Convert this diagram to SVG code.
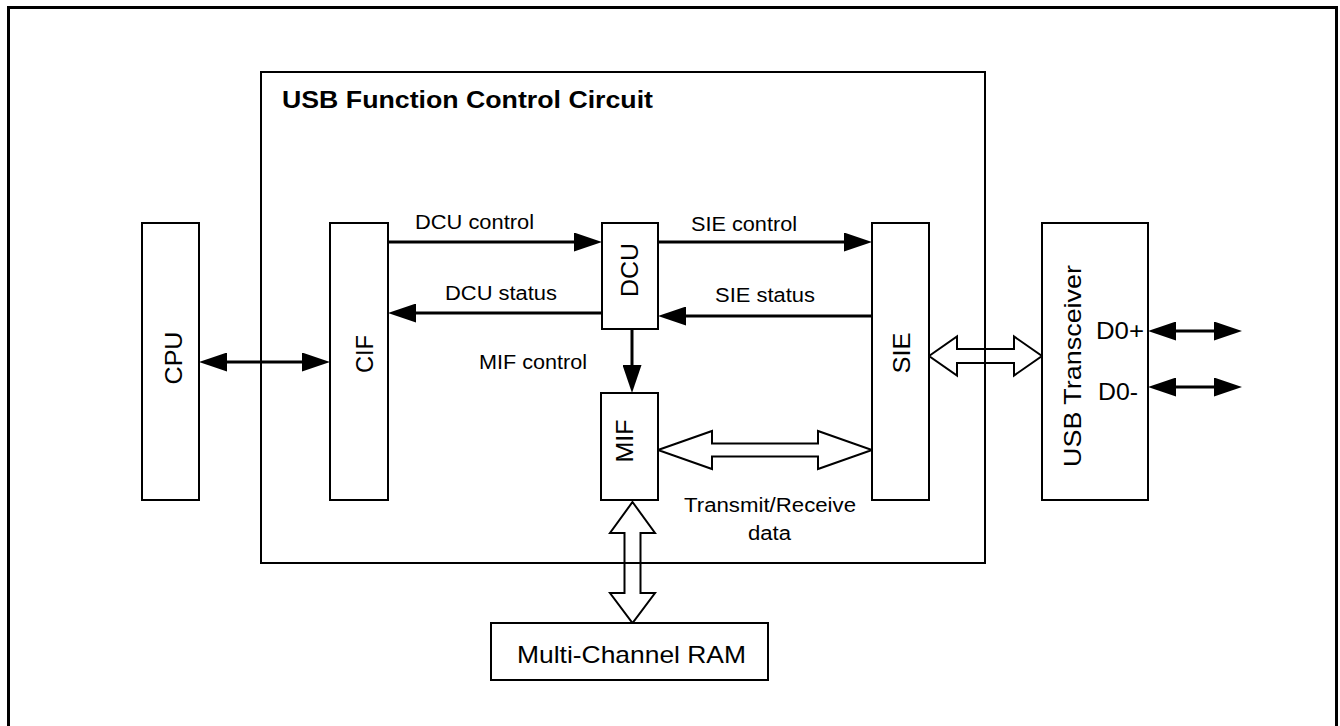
<svg xmlns="http://www.w3.org/2000/svg" width="1340" height="726" viewBox="0 0 1340 726">
<defs>
<marker id="ah" markerUnits="userSpaceOnUse" markerWidth="28" markerHeight="19" viewBox="0 0 28 19" refX="18" refY="9.5" orient="auto-start-reverse">
<path d="M0,0 L28,9.5 L0,19 z" fill="#000"/>
</marker>
<style>
.box{fill:#fff;stroke:#000;stroke-width:2}
.frame{fill:none;stroke:#000}
.ln{fill:none;stroke:#000;stroke-width:3}
.hol{fill:none;stroke:#000;stroke-width:2;stroke-linejoin:miter}
.t{font-family:"Liberation Sans",Arial,sans-serif;fill:#000}
.lab{font-size:20px}
.nl{font-size:24px}
</style>
</defs>
<rect class="frame" x="8.5" y="7.5" width="1328" height="740" stroke-width="3"/>
<g id="usb-function-control-circuit">
<rect class="frame" x="261" y="72" width="724" height="491" stroke-width="2"/>
<text class="t" x="282" y="108" font-size="23" font-weight="bold" textLength="371" lengthAdjust="spacingAndGlyphs">USB Function Control Circuit</text>
</g>
<g id="connectors">
<line class="ln" x1="209" y1="362" x2="320" y2="362" marker-start="url(#ah)" marker-end="url(#ah)"/>
<line class="ln" x1="388" y1="242" x2="592" y2="242" marker-end="url(#ah)"/>
<line class="ln" x1="602" y1="313" x2="398" y2="313" marker-end="url(#ah)"/>
<line class="ln" x1="658" y1="242" x2="862" y2="242" marker-end="url(#ah)"/>
<line class="ln" x1="872" y1="316" x2="668" y2="316" marker-end="url(#ah)"/>
<line class="ln" x1="632" y1="329" x2="632" y2="383" marker-end="url(#ah)"/>
<line class="ln" x1="1158" y1="331" x2="1232" y2="331" marker-start="url(#ah)" marker-end="url(#ah)"/>
<line class="ln" x1="1158" y1="387" x2="1232" y2="387" marker-start="url(#ah)" marker-end="url(#ah)"/>
<polygon class="hol" points="658,450 712,431 712,443.5 818,443.5 818,431 872,450 818,469 818,456.5 712,456.5 712,469"/>
<polygon class="hol" points="929,356 957,336.5 957,349 1014,349 1014,336.5 1042,356 1014,375.5 1014,363 957,363 957,375.5"/>
<polygon class="hol" points="632.5,502 655,533 640.5,533 640.5,593 655,593 632.5,623 610,593 624.5,593 624.5,533 610,533"/>
<text class="t lab" x="415" y="229" textLength="119" lengthAdjust="spacingAndGlyphs">DCU control</text>
<text class="t lab" x="445" y="300" textLength="112" lengthAdjust="spacingAndGlyphs">DCU status</text>
<text class="t lab" x="691" y="231" textLength="106" lengthAdjust="spacingAndGlyphs">SIE control</text>
<text class="t lab" x="715" y="302" textLength="100" lengthAdjust="spacingAndGlyphs">SIE status</text>
<text class="t lab" x="479" y="369" textLength="108" lengthAdjust="spacingAndGlyphs">MIF control</text>
<text class="t lab" x="684" y="512" textLength="172" lengthAdjust="spacingAndGlyphs">Transmit/Receive</text>
<text class="t lab" x="748" y="540" textLength="43" lengthAdjust="spacingAndGlyphs">data</text>
</g>
<g id="cpu">
<rect class="box" x="142" y="223" width="57" height="277"/>
<text class="t nl" transform="translate(182,358) rotate(-90)" text-anchor="middle" textLength="53" lengthAdjust="spacingAndGlyphs">CPU</text>
</g>
<g id="cif">
<rect class="box" x="330" y="223" width="58" height="277"/>
<text class="t nl" transform="translate(373,354) rotate(-90)" text-anchor="middle" textLength="38" lengthAdjust="spacingAndGlyphs">CIF</text>
</g>
<g id="dcu">
<rect class="box" x="602" y="223" width="56" height="106"/>
<text class="t nl" transform="translate(638,270) rotate(-90)" text-anchor="middle" textLength="54" lengthAdjust="spacingAndGlyphs">DCU</text>
</g>
<g id="mif">
<rect class="box" x="601" y="393" width="57" height="107"/>
<text class="t nl" transform="translate(633,441) rotate(-90)" text-anchor="middle" textLength="43" lengthAdjust="spacingAndGlyphs">MIF</text>
</g>
<g id="sie">
<rect class="box" x="872" y="223" width="57" height="277"/>
<text class="t nl" transform="translate(910,353) rotate(-90)" text-anchor="middle" textLength="41" lengthAdjust="spacingAndGlyphs">SIE</text>
</g>
<g id="usb-transceiver">
<rect class="box" x="1042" y="223" width="106" height="277"/>
<text class="t nl" transform="translate(1081,366) rotate(-90)" text-anchor="middle" textLength="202" lengthAdjust="spacingAndGlyphs">USB Transceiver</text>
<text class="t nl" x="1096" y="339" textLength="48" lengthAdjust="spacingAndGlyphs">D0+</text>
<text class="t nl" x="1098" y="400" textLength="40" lengthAdjust="spacingAndGlyphs">D0-</text>
</g>
<g id="multi-channel-ram">
<rect class="box" x="491" y="623" width="277" height="57"/>
<text class="t nl" x="517" y="663" textLength="229" lengthAdjust="spacingAndGlyphs">Multi-Channel RAM</text>
</g>
</svg>
